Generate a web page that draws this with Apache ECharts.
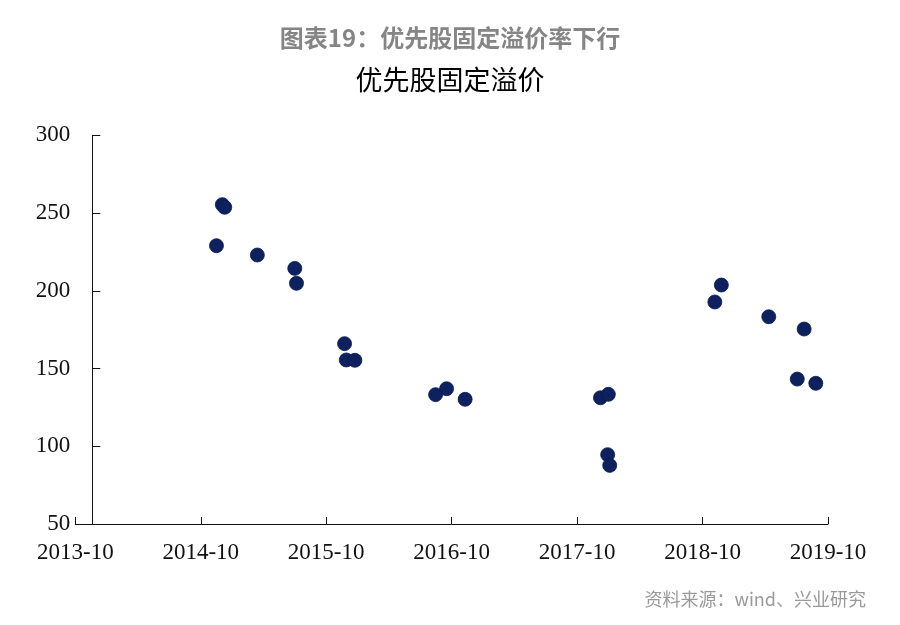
<!DOCTYPE html>
<html>
<head>
<meta charset="utf-8">
<script src="https://cdn.jsdelivr.net/npm/echarts@6/dist/echarts.min.js"></script>
<style>html,body{margin:0;padding:0;background:#fff;}#chart{width:900px;height:625px;}</style>
</head>
<body>
<div id="chart"></div>
<script>
// Data
var dates = [
  '2014-11-16','2014-12-03','2014-12-10','2015-03-15','2015-07-02','2015-07-07',
  '2015-11-24','2015-11-29','2015-12-24','2016-08-15','2016-09-16','2016-11-09',
  '2017-12-08','2017-12-31','2017-12-29','2018-01-04','2018-11-06','2018-11-25',
  '2019-04-12','2019-07-24','2019-07-04','2019-08-27'
];
var premiums = [
  229, 255.4, 253.7, 223, 214.4, 204.8,
  166, 155.5, 155.3, 133.2, 137, 130.2,
  131.2, 133.4, 94.6, 87.7, 192.8, 203.7,
  183.3, 175.4, 143.2, 140.5
];
var tickLabels = ['2013-10','2014-10','2015-10','2016-10','2017-10','2018-10','2019-10'];
var yTicks = [50, 100, 150, 200, 250, 300];
var mainTitle = '图表19：优先股固定溢价率下行';
var chartTitle = '优先股固定溢价';
var sourceText = '资料来源：wind、兴业研究';

function toMs(s){ var p = s.split('-'); return Date.UTC(+p[0], +p[1]-1, +p[2] || 1); }
var points = dates.map(function(d, i){ return [toMs(d), premiums[i]]; });
var YEAR = 365.25 * 86400000;

var chart = echarts.init(document.getElementById('chart'), null, {renderer:'canvas'});
chart.setOption({
  backgroundColor: '#ffffff',
  animation: false,
  title: [
    {text: mainTitle, left: 'center', top: 21,
     textStyle: {fontFamily: 'Noto Sans CJK SC', fontSize: 24, fontWeight: 'bold', color: '#858585'}},
    {text: chartTitle, left: 'center', top: 61,
     textStyle: {fontFamily: 'Noto Sans CJK SC', fontSize: 27, fontWeight: 'normal', color: '#000000'}},
    {text: sourceText, right: 29, top: 585,
     textStyle: {fontFamily: 'Noto Sans CJK SC', fontSize: 18, fontWeight: 'normal', color: '#9a9a9a'}}
  ],
  grid: {left: 75.3, right: 72, top: 135.3, bottom: 101, containLabel: false},
  xAxis: {
    type: 'value',
    min: toMs(tickLabels[0]),
    max: toMs(tickLabels[0]) + (tickLabels.length - 1) * YEAR,
    interval: YEAR,
    splitLine: {show: false},
    axisLine: {show: true, lineStyle: {color: '#111', width: 1}},
    axisTick: {show: true, inside: true, length: 7, lineStyle: {color: '#111'}},
    axisLabel: {
      margin: 17,
      fontFamily: 'Liberation Serif', fontSize: 23, color: '#111',
      formatter: function(v, i){ return tickLabels[i]; }
    }
  },
  yAxis: {
    type: 'value',
    min: yTicks[0], max: yTicks[yTicks.length-1], interval: 50,
    offset: -17,
    splitLine: {show: false},
    axisLine: {show: true, lineStyle: {color: '#111', width: 1}},
    axisTick: {show: true, inside: true, length: 8, lineStyle: {color: '#111'}},
    axisLabel: {margin: 22, fontFamily: 'Liberation Serif', fontSize: 23, color: '#111'}
  },
  series: [{
    type: 'scatter',
    data: points,
    symbol: 'circle',
    symbolSize: 14,
    itemStyle: {color: '#0e215e', borderColor: '#0a1a4d', borderWidth: 0.8, opacity: 1}
  }]
});
</script>
</body>
</html>
